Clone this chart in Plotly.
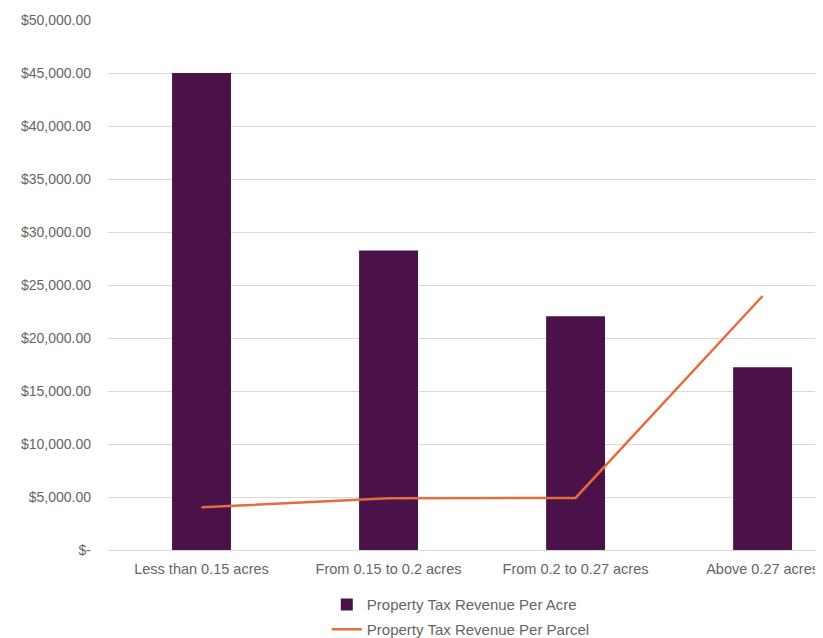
import plotly.graph_objects as go

# Data
categories = ["Less than 0.15 acres", "From 0.15 to 0.2 acres",
              "From 0.2 to 0.27 acres", "Above 0.27 acres"]
revenue_per_acre = [45000, 28250, 22050, 17230]
revenue_per_parcel = [4030, 4880, 4910, 23960]
y_ticks = [0, 5000, 10000, 15000, 20000, 25000, 30000, 35000, 40000, 45000, 50000]


def money(v):
    return "$-" if v == 0 else f"${v:,.2f}"


BAR = "#4A1249"
LINE = "#E46C3D"
GRID = "#D9D9D9"
TEXT = "#656565"
FONT = "Liberation Sans, Arial, sans-serif"

fig = go.Figure()

fig.add_trace(go.Bar(
    x=list(range(len(categories))),
    y=revenue_per_acre,
    name="Property Tax Revenue Per Acre",
    width=0.315,
    marker=dict(color=BAR, line=dict(width=0)),
    legend="legend",
))

fig.add_trace(go.Scatter(
    x=list(range(len(categories))),
    y=revenue_per_parcel,
    name="Property Tax Revenue Per Parcel",
    mode="lines",
    line=dict(color=LINE, width=2.5),
    legend="legend2",
))

# page body has an 8px margin, so the figure is sized to the visible area
fig.update_layout(
    width=815,
    height=630,
    paper_bgcolor="white",
    plot_bgcolor="white",
    font=dict(family=FONT, size=15, color=TEXT),
    margin=dict(l=100, r=0, t=12, b=88, autoexpand=False),
    xaxis=dict(
        range=[-0.5, 3.323],
        tickvals=list(range(len(categories))),
        ticktext=categories,
        showgrid=False,
        zeroline=False,
        showline=False,
        ticks="",
        ticklabelstandoff=8,
        ticklabeloverflow="allow",
        tickfont=dict(size=14.5, color=TEXT),
    ),
    yaxis=dict(
        range=[0, 50000],
        tickvals=y_ticks,
        ticktext=[money(v) for v in y_ticks],
        showgrid=True,
        gridcolor=GRID,
        gridwidth=1,
        zeroline=True,
        zerolinecolor=GRID,
        zerolinewidth=1,
        ticks="",
        ticklabelstandoff=16,
        tickfont=dict(size=14, color=TEXT),
    ),
    legend=dict(
        x=0.306, y=-0.072, xanchor="left", yanchor="top",
        bgcolor="rgba(0,0,0,0)", font=dict(size=15, color=TEXT),
    ),
    legend2=dict(
        x=0.306, y=-0.119, xanchor="left", yanchor="top",
        bgcolor="rgba(0,0,0,0)", font=dict(size=15, color=TEXT),
    ),
    showlegend=True,
)

fig.write_html("out.html")
